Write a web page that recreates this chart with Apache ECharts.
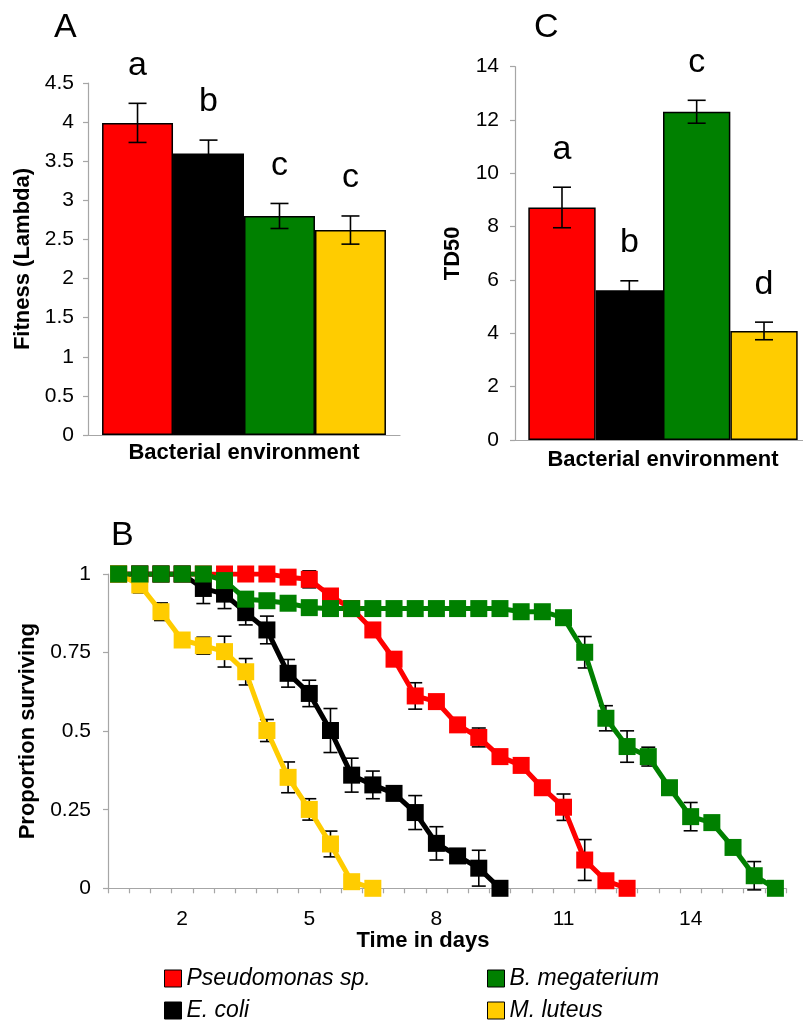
<!DOCTYPE html>
<html>
<head>
<meta charset="utf-8">
<script src="https://cdn.jsdelivr.net/npm/echarts@6/dist/echarts.min.js"></script>
<style>html,body{margin:0;background:#fff}#chart{width:803px;height:1022px}</style>
</head>
<body>
<div id="chart"></div>
<script>
// bacterial environments, same order in all panels
const bacteria = ['Pseudomonas sp.', 'E. coli', 'B. megaterium', 'M. luteus'];
const colors = ['#ff0000', '#000000', '#008000', '#ffcc00'];

// panel A: fitness (lambda), mean ± se, significance groups
const fitness = [3.99, 3.60, 2.80, 2.62];
const fitnessErr = [0.25, 0.17, 0.16, 0.18];
const fitnessGroups = ['a', 'b', 'c', 'c'];

// panel C: TD50
const td50 = [8.72, 5.62, 12.31, 4.09];
const td50Err = [0.76, 0.35, 0.43, 0.33];
const td50Groups = ['a', 'b', 'c', 'd'];

// panel B: proportion surviving, half-day steps
const days = ['0.5', '1', '1.5', '2', '2.5', '3', '3.5', '4', '4.5', '5', '5.5', '6', '6.5', '7', '7.5', '8',
  '8.5', '9', '9.5', '10', '10.5', '11', '11.5', '12', '12.5', '13', '13.5', '14', '14.5', '15', '15.5', '16'];
const survPseudo = [1, 1, 1, 1, 1, 1, 1, 1, 0.99, 0.983, 0.93, 0.89, 0.822, 0.729, 0.612, 0.594,
  0.52, 0.48, 0.419, 0.391, 0.32, 0.258, 0.09, 0.024, 0, null, null, null, null, null, null, null];
const errPseudo = [0, 0, 0, 0, 0, 0, 0, 0, 0, 0.027, 0.02, 0, 0, 0, 0.042, 0,
  0.02, 0.03, 0, 0, 0, 0.042, 0.065, 0, 0, 0, 0, 0, 0, 0, 0, 0];
const survEcoli = [1, 1, 1, 1, 0.954, 0.936, 0.877, 0.822, 0.684, 0.62, 0.502, 0.36, 0.329, 0.302, 0.241, 0.143,
  0.103, 0.064, 0, null, null, null, null, null, null, null, null, null, null, null, null, null];
const errEcoli = [0, 0, 0, 0, 0.048, 0.046, 0.039, 0.044, 0.044, 0.042, 0.07, 0.054, 0.044, 0, 0.054, 0.053,
  0, 0.057, 0, 0, 0, 0, 0, 0, 0, 0, 0, 0, 0, 0, 0, 0];
const survBmeg = [1, 1, 1, 1, 1, 0.979, 0.92, 0.915, 0.907, 0.893, 0.89, 0.89, 0.89, 0.89, 0.89, 0.89,
  0.89, 0.89, 0.89, 0.88, 0.88, 0.861, 0.751, 0.541, 0.451, 0.419, 0.32, 0.228, 0.209, 0.13, 0.04, 0];
const errBmeg = [0, 0, 0, 0, 0, 0, 0, 0, 0, 0, 0, 0, 0, 0, 0, 0,
  0, 0, 0, 0, 0, 0, 0.05, 0.04, 0.05, 0.03, 0, 0.045, 0, 0, 0.045, 0];
const survMlut = [1, 0.965, 0.88, 0.79, 0.772, 0.753, 0.689, 0.502, 0.353, 0.251, 0.141, 0.021, 0, null, null, null,
  null, null, null, null, null, null, null, null, null, null, null, null, null, null, null, null];
const errMlut = [0, 0.025, 0.028, 0, 0.027, 0.049, 0.042, 0.035, 0.049, 0.034, 0.041, 0, 0, 0, 0, 0,
  0, 0, 0, 0, 0, 0, 0, 0, 0, 0, 0, 0, 0, 0, 0, 0];

const FONT = 'Liberation Sans, Arial, sans-serif';
const AXIS_GREY = '#a6a6a6';
const CAT_GAP = 0.09;

const axisLine = { show: true, lineStyle: { color: AXIS_GREY, width: 1.2 } };
const tick = { show: true, length: 5, lineStyle: { color: AXIS_GREY, width: 1.2 } };
const tickLabel = m => ({ fontSize: 21, color: '#000', fontFamily: FONT, margin: m });
const axisName = { fontSize: 22, fontWeight: 'bold', color: '#000', fontFamily: FONT };

// error bar + significance letter on a grouped bar (one category, four bars)
function barErr(params, api) {
  const i = api.value(3);
  const c = api.coord([0, api.value(1)]);
  const band = api.size([1, 0])[0];
  const total = band * (1 - CAT_GAP);
  const x = c[0] - total / 2 + total / 4 * (i + 0.5);
  const lo = api.coord([0, api.value(1) - api.value(2)])[1];
  const hi = api.coord([0, api.value(1) + api.value(2)])[1];
  const s = { stroke: '#000', lineWidth: 1.6 };
  return {
    type: 'group', children: [
      { type: 'line', shape: { x1: x, y1: lo, x2: x, y2: hi }, style: s },
      { type: 'line', shape: { x1: x - 9, y1: lo, x2: x + 9, y2: lo }, style: s },
      { type: 'line', shape: { x1: x - 9, y1: hi, x2: x + 9, y2: hi }, style: s },
      { type: 'text', x: x, y: hi - 21, style: { text: api.value(4), font: '34px ' + FONT, fill: '#000', align: 'center', verticalAlign: 'bottom' } }
    ]
  };
}

// error bar on a survival point
function lineErr(params, api) {
  const k = api.value(0);
  const lo = api.coord([k, api.value(1)]);
  const hi = api.coord([k, api.value(2)]);
  const s = { stroke: '#000', lineWidth: 1.6 };
  return {
    type: 'group', children: [
      { type: 'line', shape: { x1: lo[0], y1: lo[1], x2: hi[0], y2: hi[1] }, style: s },
      { type: 'line', shape: { x1: lo[0] - 7, y1: lo[1], x2: lo[0] + 7, y2: lo[1] }, style: s },
      { type: 'line', shape: { x1: hi[0] - 7, y1: hi[1], x2: hi[0] + 7, y2: hi[1] }, style: s }
    ]
  };
}

function barSeries(values, axis) {
  return values.map((v, i) => ({
    name: bacteria[i], type: 'bar', xAxisIndex: axis, yAxisIndex: axis, data: [v],
    barGap: '0%', barCategoryGap: (CAT_GAP * 100) + '%',
    itemStyle: { color: colors[i], borderColor: '#000', borderWidth: 1.5 }
  }));
}

function errSeries(values, errs, groups, axis) {
  return {
    type: 'custom', xAxisIndex: axis, yAxisIndex: axis, renderItem: barErr, z: 5, silent: true,
    data: values.map((v, i) => [0, v, errs[i], i, groups[i]])
  };
}

function survSeries(name, surv, err, color) {
  const pts = [];
  err.forEach((e, k) => { if (e > 0 && surv[k] != null) pts.push([k, surv[k] - e, surv[k] + e]); });
  return [
    { type: 'custom', xAxisIndex: 2, yAxisIndex: 2, renderItem: lineErr, data: pts, silent: true },
    {
      name, type: 'line', xAxisIndex: 2, yAxisIndex: 2, data: surv, symbol: 'rect', symbolSize: 17,
      showAllSymbol: true, animation: false,
      itemStyle: { color }, lineStyle: { color, width: 5 }
    }
  ];
}

// single-entry legend, placed in a 2x2 block
function legendItem(left, top, name) {
  return {
    left, top, padding: 0, itemWidth: 17, itemHeight: 17, icon: 'rect',
    textStyle: { fontSize: 23, fontStyle: 'italic', color: '#000', fontFamily: FONT },
    data: [{ name, itemStyle: { borderColor: '#000', borderWidth: 1 } }]
  };
}

const chart = echarts.init(document.getElementById('chart'));
chart.setOption({
  animation: false,
  backgroundColor: '#fff',
  textStyle: { fontFamily: FONT },
  graphic: [
    { type: 'text', left: 54, top: 11, style: { text: 'A', font: '34px ' + FONT, fill: '#000' } },
    { type: 'text', left: 534, top: 11, style: { text: 'C', font: '34px ' + FONT, fill: '#000' } },
    { type: 'text', left: 111, top: 519, style: { text: 'B', font: '34px ' + FONT, fill: '#000' } }
  ],
  legend: [
    legendItem(164, 967, bacteria[0]),
    legendItem(164, 999, bacteria[1]),
    legendItem(487, 967, bacteria[2]),
    legendItem(487, 999, bacteria[3])
  ],
  grid: [
    { left: 88, top: 83, width: 312, height: 352, outerBoundsMode: 'none' },
    { left: 515, top: 66.7, width: 296, height: 373.3, outerBoundsMode: 'none' },
    { left: 108, top: 574, width: 678, height: 314.3, outerBoundsMode: 'none' }
  ],
  xAxis: [
    {
      gridIndex: 0, type: 'category', data: [''], axisLine, axisTick: { show: false }, axisLabel: { show: false },
      name: 'Bacterial environment', nameLocation: 'middle', nameGap: 7, nameTextStyle: axisName
    },
    {
      gridIndex: 1, type: 'category', data: [''], axisLine, axisTick: { show: false }, axisLabel: { show: false },
      name: 'Bacterial environment', nameLocation: 'middle', nameGap: 9, nameTextStyle: axisName
    },
    {
      gridIndex: 2, type: 'category', data: days, boundaryGap: true, axisLine,
      axisTick: { show: true, length: 5, interval: 0, alignWithLabel: false, lineStyle: { color: AXIS_GREY, width: 1.2 } },
      axisLabel: { ...tickLabel(20), interval: idx => idx % 6 === 3 },
      name: 'Time in days', nameLocation: 'middle', nameGap: 42,
      nameTextStyle: { ...axisName, padding: [0, 48, 0, 0] }
    }
  ],
  yAxis: [
    {
      gridIndex: 0, type: 'value', min: 0, max: 4.5, interval: 0.5, axisLine, axisTick: tick,
      axisLabel: tickLabel(14), splitLine: { show: false },
      name: 'Fitness (Lambda)', nameLocation: 'middle', nameGap: 54, nameTextStyle: axisName
    },
    {
      gridIndex: 1, type: 'value', min: 0, max: 14, interval: 2, axisLine, axisTick: tick,
      axisLabel: tickLabel(16), splitLine: { show: false },
      name: 'TD50', nameLocation: 'middle', nameGap: 51, nameTextStyle: axisName
    },
    {
      gridIndex: 2, type: 'value', min: 0, max: 1, interval: 0.25, axisLine, axisTick: tick,
      axisLabel: tickLabel(17), splitLine: { show: false },
      name: 'Proportion surviving', nameLocation: 'middle', nameGap: 65, nameTextStyle: axisName
    }
  ],
  series: [
    ...barSeries(fitness, 0),
    errSeries(fitness, fitnessErr, fitnessGroups, 0),
    ...barSeries(td50, 1),
    errSeries(td50, td50Err, td50Groups, 1),
    ...survSeries(bacteria[0], survPseudo, errPseudo, colors[0]),
    ...survSeries(bacteria[1], survEcoli, errEcoli, colors[1]),
    ...survSeries(bacteria[3], survMlut, errMlut, colors[3]),
    ...survSeries(bacteria[2], survBmeg, errBmeg, colors[2])
  ]
});
</script>
</body>
</html>
